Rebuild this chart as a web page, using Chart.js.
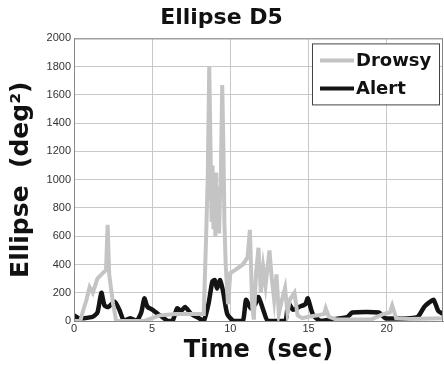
<!DOCTYPE html>
<html>
<head>
<meta charset="utf-8">
<script src="https://cdn.jsdelivr.net/npm/chart.js@4"></script>
<style>
  html, body { margin: 0; padding: 0; background: #fff; }
  #wrap { width: 444px; height: 365px; }
</style>
</head>
<body>
<div id="wrap"><canvas id="chart" width="444" height="365"></canvas></div>
<script>
// ─── Data ────────────────────────────────────────────────────────────────────
const drowsyTime = [0, 0.4, 0.6, 0.8, 1.0, 1.2, 1.5, 1.85, 2.05, 2.15, 2.25, 2.5, 2.7, 4.5, 5.0, 5.5, 6.5, 7.5, 8.3, 8.45, 8.55, 8.65, 8.72, 8.8, 8.86, 8.92, 8.98, 9.04, 9.1, 9.16, 9.22, 9.28, 9.34, 9.4, 9.48, 9.56, 9.62, 9.7, 9.85, 10.0, 10.3, 10.8, 11.1, 11.25, 11.4, 11.5, 11.65, 11.8, 11.95, 12.1, 12.25, 12.4, 12.5, 12.65, 12.8, 12.95, 13.1, 13.3, 13.5, 13.65, 13.8, 14.1, 14.3, 14.6, 15.0, 15.6, 16.0, 16.1, 16.3, 16.8, 19.0, 19.8, 20.2, 20.35, 20.6, 21.5, 23.6];
const drowsyVals = [0, 0, 80, 150, 240, 200, 300, 340, 360, 680, 330, 120, 0, 0, 20, 40, 50, 50, 50, 600, 1000, 1800, 1300, 700, 1100, 650, 1000, 600, 1050, 700, 950, 620, 900, 1100, 1670, 1200, 700, 400, 120, 340, 360, 400, 450, 645, 100, 10, 350, 518, 200, 380, 250, 400, 500, 300, 150, 330, 50, 150, 234, 60, 150, 200, 40, 20, 30, 40, 50, 90, 30, 10, 10, 50, 60, 110, 20, 15, 20];

const alertTime = [0, 0.3, 0.6, 1.2, 1.5, 1.75, 1.95, 2.2, 2.6, 2.9, 3.2, 3.6, 4.0, 4.3, 4.5, 4.7, 5.0, 5.5, 6.0, 6.3, 6.6, 6.85, 7.1, 7.5, 8.0, 8.3, 8.6, 8.85, 9.0, 9.15, 9.35, 9.55, 9.8, 10.2, 10.8, 11.0, 11.3, 11.6, 11.8, 12.1, 12.4, 13.5, 13.7, 14.0, 14.4, 14.8, 14.95, 15.3, 15.8, 16.5, 17.5, 17.8, 19.5, 19.9, 21.5, 22.0, 22.4, 22.7, 23.0, 23.3, 23.6];
const alertVals = [40, 20, 20, 30, 60, 200, 110, 100, 137, 80, 0, 20, 0, 60, 160, 100, 80, 40, 0, 0, 90, 70, 100, 50, 20, 0, 120, 280, 290, 230, 290, 200, 50, 0, 0, 150, 90, 120, 170, 80, 0, 0, 130, 80, 100, 120, 160, 40, 0, 10, 30, 60, 60, 20, 20, 30, 100, 130, 150, 70, 50];

const seriesLabels = ['Drowsy', 'Alert'];
const seriesColors = ['#c4c4c4', '#141414'];
const yTicks = [0, 200, 400, 600, 800, 1000, 1200, 1400, 1600, 1800, 2000];
const xTicks = [0, 5, 10, 15, 20];

const heavy = '"DejaVu Sans", "Liberation Sans", sans-serif';
const light = '"Liberation Sans", Arial, sans-serif';

const toPoints = (xs, ys) => xs.map((x, i) => ({ x, y: ys[i] }));

// ─── Box round the plot + legend inside it, MATLAB style ────────────────────
const boxLegend = {
  id: 'boxLegend',
  afterDatasetsDraw(chart) {
    const { ctx, chartArea } = chart;
    ctx.save();
    ctx.strokeStyle = '#888';
    ctx.lineWidth = 1;
    ctx.strokeRect(chartArea.left + 0.5, chartArea.top + 0.5,
      chartArea.right - chartArea.left - 1, chartArea.bottom - chartArea.top);

    const x0 = chartArea.right - 131, y0 = chartArea.top + 5, w = 127, h = 61;
    ctx.fillStyle = '#fff';
    ctx.fillRect(x0, y0, w, h);
    ctx.strokeStyle = '#444';
    ctx.strokeRect(x0 + 0.5, y0 + 0.5, w, h);
    ctx.font = 'bold 18px ' + heavy;
    ctx.textBaseline = 'middle';
    chart.data.datasets.forEach((ds, i) => {
      const cy = y0 + 17 + i * 28;
      ctx.strokeStyle = ds.borderColor;
      ctx.lineWidth = 4;
      ctx.beginPath();
      ctx.moveTo(x0 + 8, cy);
      ctx.lineTo(x0 + 42, cy);
      ctx.stroke();
      ctx.fillStyle = '#111';
      ctx.fillText(ds.label, x0 + 44, cy + 1);
    });
    ctx.restore();
  }
};

new Chart(document.getElementById('chart'), {
  type: 'line',
  data: {
    datasets: [
      { label: seriesLabels[0], data: toPoints(drowsyTime, drowsyVals), borderColor: seriesColors[0], borderWidth: 4, pointRadius: 0, tension: 0 },
      { label: seriesLabels[1], data: toPoints(alertTime, alertVals), borderColor: seriesColors[1], borderWidth: 4.5, pointRadius: 0, tension: 0.2 }
    ]
  },
  options: {
    responsive: false,
    animation: false,
    layout: { padding: { top: 0, right: 1, left: 0, bottom: 0 } },
    plugins: {
      legend: { display: false },
      tooltip: { enabled: false },
      title: {
        display: true,
        text: 'Ellipse D5',
        color: '#111',
        font: { family: heavy, size: 22, weight: 'bold' },
        padding: { top: 5, bottom: 7 }
      }
    },
    scales: {
      x: {
        type: 'linear',
        min: 0, max: 23.6,
        afterBuildTicks: axis => { axis.ticks = xTicks.map(v => ({ value: v })); },
        afterFit: axis => { axis.height = 44; },
        ticks: { color: '#333', font: { family: light, size: 11 }, padding: 1, callback: v => String(v) },
        grid: { color: '#c8c8c8', lineWidth: 1, drawTicks: false },
        border: { color: '#888' },
        title: {
          display: true,
          text: 'Time  (sec)',
          color: '#111',
          font: { family: heavy, size: 24, weight: 'bold' },
          padding: { top: 0, bottom: 0 }
        }
      },
      y: {
        min: 0, max: 2000,
        afterBuildTicks: axis => { axis.ticks = yTicks.map(v => ({ value: v })); },
        afterFit: axis => { axis.width = 74; },
        ticks: { color: '#333', font: { family: light, size: 11 }, padding: 3, callback: v => String(v) },
        grid: { color: '#c8c8c8', lineWidth: 1, drawTicks: false },
        border: { color: '#888' },
        title: {
          display: true,
          text: 'Ellipse  (deg²)',
          color: '#111',
          font: { family: heavy, size: 25, weight: 'bold' },
          padding: { top: 6, bottom: 0 }
        }
      }
    }
  },
  plugins: [boxLegend]
});
</script>
</body>
</html>
